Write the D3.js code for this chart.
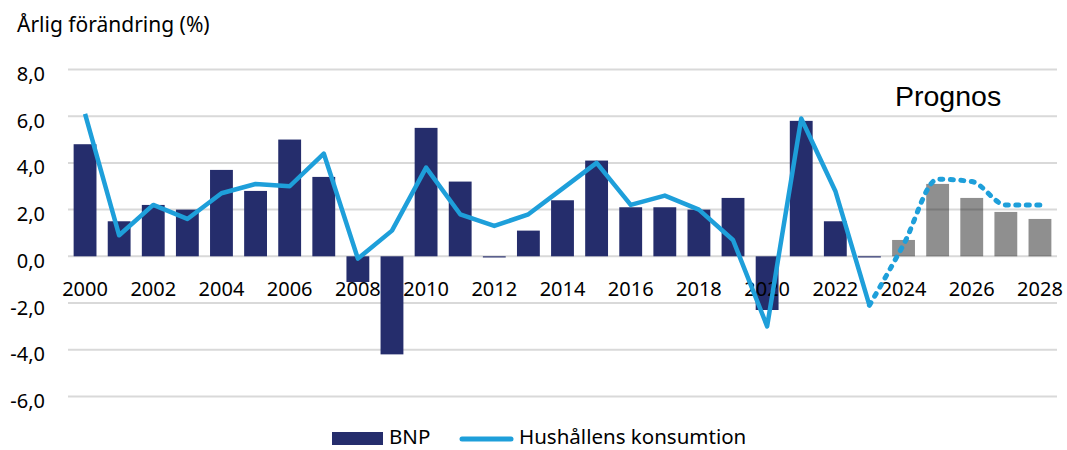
<!DOCTYPE html>
<html>
<head>
<meta charset="utf-8">
<script src="https://cdn.jsdelivr.net/npm/d3@7"></script>
<style>
  body { margin: 0; background: #fff; }
  svg { display: block; font-family: "Noto Sans", sans-serif; }
</style>
</head>
<body>
<script>
// data
const years = d3.range(2000, 2029);
const bnp = [4.8, 1.5, 2.2, 2.0, 3.7, 2.8, 5.0, 3.4, -1.1, -4.2,
             5.5, 3.2, -0.05, 1.1, 2.4, 4.1, 2.1, 2.1, 2.0, 2.5,
             -2.3, 5.8, 1.5, -0.05, 0.7, 3.1, 2.5, 1.9, 1.6];
const konsumtion = [6.1, 0.9, 2.2, 1.6, 2.7, 3.1, 3.0, 4.4, -0.1, 1.1,
                    3.8, 1.8, 1.3, 1.8, 2.9, 4.0, 2.2, 2.6, 2.0, 0.7,
                    -3.0, 5.9, 2.8, -2.1, 0.5, 3.3, 3.2, 2.2, 2.2];
const prognosFrom = 2024;       // grey bars from here
const lastOutcome = 2023;       // line turns dashed after this year
const yTicks = [-6, -4, -2, 0, 2, 4, 6, 8];
const xTickLabels = years.filter(d => d % 2 === 0);
const seriesNames = ["BNP", "Hushållens konsumtion"];

const width = 1067, height = 450;
const navy = "#252d6c", blue = "#1e9fda";

const svg = d3.select("body").append("svg")
    .attr("width", width)
    .attr("height", height);

const x = d3.scaleBand()
    .domain(years)
    .range([68, 1057])
    .paddingInner(0.33)
    .paddingOuter(0.165);

const y = d3.scaleLinear()
    .domain([-6, 8])
    .range([396.4, 69.5]);

const locale = d3.formatLocale({decimal: ",", thousands: " ", grouping: [3], currency: ["", " kr"], minus: "-"});
const fmt = locale.format(".1f");

// gridlines
svg.append("g")
  .selectAll("line")
  .data(yTicks)
  .join("line")
    .attr("x1", 68)
    .attr("x2", 1057)
    .attr("y1", d => y(d))
    .attr("y2", d => y(d))
    .attr("stroke", "#d9d9d9")
    .attr("stroke-width", 2);

// y axis labels
svg.append("g")
    .attr("transform", "translate(68,0)")
    .call(d3.axisLeft(y).tickValues(yTicks).tickFormat(fmt).tickSize(0).tickPadding(23))
    .call(g => g.select(".domain").remove())
    .call(g => g.selectAll("text")
        .attr("dy", "0.55em")
        .attr("fill", "#000")
        .style("font-size", "20px")
        .style("font-family", "'Noto Sans', sans-serif"));

// bars
svg.append("g")
  .selectAll("rect")
  .data(years.map((yr, i) => ({yr, v: bnp[i]})))
  .join("rect")
    .attr("x", d => x(d.yr))
    .attr("width", x.bandwidth())
    .attr("y", d => y(Math.max(0, d.v)))
    .attr("height", d => Math.max(1, Math.abs(y(d.v) - y(0))))
    .attr("fill", d => d.yr >= prognosFrom ? "#000" : navy)
    .attr("fill-opacity", d => d.yr >= prognosFrom ? 0.44 : 1);

// x axis labels
svg.append("g")
    .attr("transform", `translate(0,${y(0)})`)
    .call(d3.axisBottom(x).tickValues(xTickLabels).tickSize(0).tickPadding(26))
    .call(g => g.select(".domain").remove())
    .call(g => g.selectAll("text")
        .attr("fill", "#000")
        .style("font-size", "20px")
        .style("font-family", "'Noto Sans', sans-serif"));

// consumption line
const pts = years.map((yr, i) => [x(yr) + x.bandwidth() / 2, y(konsumtion[i])]);
const solid = pts.filter((p, i) => years[i] <= lastOutcome);
const dashed = pts.filter((p, i) => years[i] >= lastOutcome);

svg.append("path")
    .datum(solid)
    .attr("d", d3.line())
    .attr("fill", "none")
    .attr("stroke", blue)
    .attr("stroke-width", 4.5)
    .attr("stroke-linejoin", "round");

svg.append("path")
    .datum(dashed)
    .attr("d", d3.line().curve(d3.curveMonotoneX))
    .attr("fill", "none")
    .attr("stroke", blue)
    .attr("stroke-width", 5)
    .attr("stroke-linecap", "round")
    .attr("stroke-dasharray", "3,7.5");

// title
svg.append("text")
    .attr("x", 17)
    .attr("y", 32)
    .style("font-size", "21px")
    .text("Årlig förändring (%)");

svg.append("text")
    .attr("x", 895)
    .attr("y", 106)
    .style("font-family", "'Liberation Sans', Arial, sans-serif")
    .style("font-size", "28.5px")
    .text("Prognos");

// legend
const legend = svg.append("g").style("font-size", "20.5px");
legend.append("rect")
    .attr("x", 332).attr("y", 432)
    .attr("width", 51).attr("height", 13)
    .attr("fill", navy);
legend.append("text")
    .attr("x", 389).attr("y", 444)
    .text(seriesNames[0]);
legend.append("line")
    .attr("x1", 462).attr("x2", 511)
    .attr("y1", 439).attr("y2", 439)
    .attr("stroke", blue)
    .attr("stroke-width", 5)
    .attr("stroke-linecap", "round");
legend.append("text")
    .attr("x", 519).attr("y", 444)
    .text(seriesNames[1]);
</script>
</body>
</html>
